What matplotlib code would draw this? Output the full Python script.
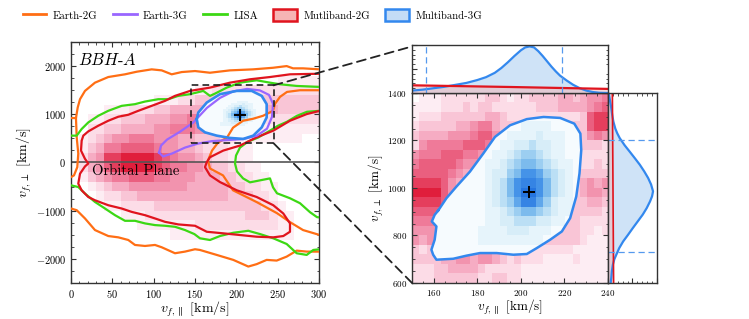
import numpy as np
import matplotlib
matplotlib.use("Agg")
import matplotlib.pyplot as plt
from matplotlib.colors import LinearSegmentedColormap
from matplotlib.patches import Polygon, Patch, Rectangle, ConnectionPatch
from matplotlib.lines import Line2D
from matplotlib.ticker import MultipleLocator

plt.rcParams.update({
    "font.family": "serif",
    "font.serif": ["cmr10"],
    "mathtext.fontset": "cm",
    "axes.formatter.use_mathtext": True,
})

# ---- pink histogram, left panel (rows top->bottom, y 2000..-2000, x 0..300)
pink_left_rows = [
    "000000000000000000000000000000",
    "000000000000000000000000011111",
    "000000000000000112222222222222",
    "000000000011122333333333333333",
    "000011122233444444444444433333",
    "001122333444556665544332222222",
    "002233444455666554432211111111",
    "012345566655544333221111111100",
    "013466777765544322211100000000",
    "024588999987655432211100000000",
    "024578999987665543322110000000",
    "013456677766555444332211000000",
    "001234455555554444433221100000",
    "000122334444444444433322100000",
    "000011222233333333333332210000",
    "000000111222222222222333211000",
    "000000001111111222222222211000",
    "000000000000111111111111111000",
    "000000000000000000000000000000",
    "000000000000000000000000000000",
]

# ---- zoomed panel histograms (rows top->bottom, y 1400..600, x 150..240)
pink_zoom_rows = [
    "011122222233212233334434556",
    "111122232332222223334444567",
    "122233333344322222222223788",
    "233333445664333333333333788",
    "344445556775433333333333565",
    "256666677765433333333333332",
    "566677766543333333333332222",
    "677777655433333333333332232",
    "777776544333333333333333333",
    "888875433333333333333334545",
    "999975433333333333333334554",
    "888874433333333333333333443",
    "777764433333333333333333332",
    "666554433333333333333332222",
    "555544333333333333333332212",
    "545443333333333333333332111",
    "323444334455332222222211111",
    "333344554554323222111121111",
    "222334444322222111111111111",
    "222333333223322111111111111",
]
blue_zoom_rows = [
    "000000000000000000000000000",
    "000000000000000000000000000",
    "000000000000000000000000000",
    "000000000000000111100000000",
    "000000000000011112111000000",
    "000000000000112232211000000",
    "000000000001123443211000000",
    "000000000011234554321100000",
    "000000000012245776432100000",
    "000000000012357887532100000",
    "000000000012357997532100000",
    "000000000012346886421100000",
    "000000000011234554321100000",
    "000000000011223332211000000",
    "000000000111122211100000000",
    "000000000111111111000000000",
    "000000000000000000000000000",
    "000000000000000000000000000",
    "000000000000000000000000000",
    "000000000000000000000000000",
]

# ---- contour lines (left panel)
e2g_up_x = [0, 6, 8.1, 10.9, 16.9, 29, 45.1, 65.3, 79.5, 97.6, 109.7, 121.8, 133.9, 150,
            168.1, 192.3, 220.2, 244.4, 260.9, 268.6, 280.7, 301]
e2g_up_y = [922, 922, 1140, 1313, 1485, 1656, 1773, 1829, 1883, 1932, 1911, 1829, 1876, 1897,
            1862, 1911, 1932, 1965, 2000, 1953, 1953, 1932]
e2g_notch_x = [6, 6.9, 8.8, 7.6, 3.6, 0]
e2g_notch_y = [922, 522, 186, -97, -268, -303]
e2g_low_x = [0, 6.9, 16.9, 29, 45.1, 57.2, 69.3, 77.4, 89.5, 101.6, 109.7, 125.8, 137.9, 150,
             156, 176.3, 196.3, 214.5, 224.6, 236.7, 248.8, 260.9, 273, 285.1, 301]
e2g_low_y = [-955, -990, -1161, -1402, -1526, -1553, -1608, -1711, -1732, -1711, -1759, -1883,
             -1849, -1800, -1815, -1918, -2021, -2159, -2109, -2021, -2035, -1953, -1829, -1849, -1849]
e2g_in_x = [301, 277, 261.3, 252.8, 246.8, 244.4, 232.3, 220.2, 208.1, 196, 188.7, 177.8, 170.6,
            165.7, 168.1, 183.9, 196, 225, 249.2, 264.9, 280.7, 301]
e2g_in_y = [1499, 1499, 1464, 1361, 1217, 1072, 969, 907, 866, 722, 516, 412, 247,
            41, -124, -268, -577, -825, -1052, -1237, -1402, -1505]

lisa_up_x = [0, 6.9, 12.9, 20.9, 33, 45.1, 61.3, 77.4, 89.5, 105.6, 117.7, 129.8, 144, 160,
             168.1, 174.2, 188.4, 204.4, 224.6, 240.7, 252.8, 273, 301]
lisa_up_y = [557, 557, 695, 831, 969, 1072, 1175, 1210, 1264, 1313, 1313, 1382, 1417, 1485,
             1382, 1429, 1553, 1656, 1705, 1656, 1623, 1588, 1567]
lisa_low_x = [0, 8.8, 16.9, 29, 41.1, 53.2, 65.3, 77.4, 89.5, 101.6, 113.7, 125.8, 137.9, 149.2,
              156, 168.1, 180.2, 196.3, 214.5, 228.6, 244.7, 260.9, 273, 285.1, 293.1, 301]
lisa_low_y = [-474, -509, -645, -819, -955, -1093, -1210, -1210, -1264, -1299, -1313, -1334,
              -1402, -1485, -1573, -1608, -1526, -1458, -1417, -1485, -1573, -1691, -1883, -1918,
              -1815, -1800]
lisa_in_x = [301, 285.5, 273.4, 261.3, 250.4, 240.7, 226.2, 214.1, 204.4, 199.6, 198.4, 200.8,
             208.1, 216.5, 228.6, 240.7, 244.4, 249.2, 264.9, 277, 289.1, 297.6, 301]
lisa_in_y = [1072, 1052, 969, 845, 763, 660, 516, 433, 309, 144, -21, -186,
             -330, -412, -371, -330, -516, -639, -742, -845, -1031, -1134, -1140]

mb2g_x = [301, 264.9, 240.7, 216.5, 192.3, 168.1, 144, 137.9, 125.8, 113.7, 97.6, 81.4, 69.3,
          57.2, 45.1, 33, 20.9, 14.9, 12.9, 12.1, 16.9, 20.9, 16.9, 10.9, 8.8, 12.9, 20.9, 29,
          45.1, 61.3, 73.4, 89.5, 101.6, 113.7, 129.8, 150, 164.2, 184.2, 204.4, 224.6, 244.7,
          256.8, 264.9, 264.9, 256.8, 244.7, 224.6, 200.5, 180.2, 168.1, 162.1, 164.2, 168.1,
          184.2, 204.4, 224.6, 244.7, 264.9, 285.1, 301]
mb2g_y = [1841, 1829, 1773, 1726, 1656, 1553, 1485, 1450, 1382, 1278, 1175, 1072, 990,
          949, 866, 763, 645, 557, 454, 247, 76, -21, -82, -233, -439, -577, -716, -784,
          -887, -955, -1025, -1093, -1161, -1231, -1285, -1313, -1437, -1470, -1505, -1540, -1553,
          -1526, -1437, -1264, -1058, -887, -716, -577, -406, -268, -97, 6, 109,
          247, 351, 522, 660, 866, 1004, 1072]

e3g_x = [106.5, 108.9, 116.1, 131.9, 147.6, 164.5, 180.2, 196, 212.9, 228.6, 239.5, 244.4,
         243.2, 237.1, 225, 208.1, 188.7, 170.6, 153.6, 137.9, 122.2, 111.3]
e3g_y = [206, 351, 474, 639, 825, 1134, 1340, 1474, 1526, 1495, 1402, 1217,
         949, 701, 557, 485, 464, 443, 392, 309, 186, 124]

mb3g_left_x = [152.1, 154, 164.2, 180.2, 200.5, 218.6, 230.7, 236.7, 236.7, 230.7, 220.5,
               208.4, 192.3, 176.3, 162.1, 154]
mb3g_left_y = [901, 1037, 1243, 1417, 1485, 1485, 1382, 1210, 934, 728, 557,
               489, 509, 557, 625, 728]

# ---- contour (zoomed panel)
mb3g_zoom_x = [162.0, 165.8, 170.4, 176.6, 182.7, 188.1, 195.0, 202.7, 210.4, 218.0, 224.5,
               227.3, 227.7, 226.9, 225.4, 222.6, 218.8, 213.4, 207.3, 202.7, 196.5, 188.9,
               181.2, 175.0, 168.9, 161.2, 159.7, 158.9, 160.4, 161.2, 159.1, 160.4]
mb3g_zoom_y = [905, 957, 1006, 1069, 1145, 1215, 1264, 1290, 1299, 1295, 1271,
               1229, 1159, 1062, 964, 873, 817, 782, 747, 722, 719, 726,
               726, 715, 702, 698, 719, 740, 782, 838, 859, 887]

# ---- marginals
top_x = [150, 155, 160, 165, 170, 175, 180, 184, 188, 191, 194, 197, 200, 202, 204, 206, 208,
         210, 212, 214, 216, 218, 221, 224, 227, 230, 233, 236, 240]
top_blue = [0.05, 0.07, 0.10, 0.13, 0.17, 0.21, 0.27, 0.33, 0.42, 0.52, 0.64, 0.77, 0.89, 0.95,
            0.97, 0.95, 0.87, 0.77, 0.66, 0.55, 0.45, 0.36, 0.26, 0.17, 0.10, 0.05, 0.02, 0.005, 0.0]
top_red_x = [150, 195, 240]
top_red = [0.16, 0.125, 0.085]
top_ci = [156.6, 218.7]

side_y = [1400, 1370, 1340, 1310, 1280, 1250, 1230, 1210, 1180, 1154, 1125, 1098, 1070, 1042,
          1015, 986, 965, 944, 915, 888, 860, 832, 803, 775, 747, 719, 700, 677, 650, 621, 600]
side_blue = [0.015, 0.04, 0.065, 0.085, 0.11, 0.15, 0.19, 0.24, 0.34, 0.44, 0.55, 0.65, 0.74,
             0.82, 0.88, 0.92, 0.90, 0.86, 0.79, 0.71, 0.61, 0.51, 0.41, 0.31, 0.23, 0.17, 0.13,
             0.10, 0.08, 0.068, 0.055]
side_red_y = [1400, 600]
side_red = [0.09, 0.115]
side_ci = [729, 1203]

true_left = (205, 990)
true_zoom = (203.7, 983)

# ---- styles
C_E2G = "#ff6e14"
C_E3G = "#9966ff"
C_LISA = "#3cd814"
C_MB2G = "#e0141e"
C_MB3G = "#3388ee"
F_MB2G = "#f6b4b4"
F_MB3G = "#c4dcf6"
SPINE = "#333333"

pink_cmap = LinearSegmentedColormap.from_list(
    "pink", ["#ffffff", "#fcd8e4", "#f5a0ba", "#ec6889", "#e01e3c"])
blue_cmap = LinearSegmentedColormap.from_list(
    "blue", ["#f6fbfe", "#d3ecf8", "#8cc6ef", "#4a98ea", "#2575e0"])


def to_grid(rows):
    return np.array([[int(ch) for ch in r] for r in rows], dtype=float)


def style_axes(a, size):
    a.tick_params(which="both", direction="in", top=True, right=True, labelsize=size,
                  color=SPINE)
    a.tick_params(which="major", length=3.5, width=0.8)
    a.tick_params(which="minor", length=1.8, width=0.6)
    for s in a.spines.values():
        s.set_color(SPINE)
        s.set_linewidth(1.0)


fig = plt.figure(figsize=(7.49, 3.19), dpi=100)
ax = fig.add_axes([0.0948, 0.1129, 0.3311, 0.7555])
axm = fig.add_axes([0.5501, 0.1129, 0.2617, 0.5956])
axt = fig.add_axes([0.5501, 0.7085, 0.2617, 0.1505])
axr = fig.add_axes([0.8117, 0.1129, 0.0654, 0.5956])

# ---------------- left panel
ax.imshow(to_grid(pink_left_rows), extent=(0, 300, -2000, 2000), origin="upper",
          cmap=pink_cmap, vmin=0, vmax=9, aspect="auto", interpolation="nearest", zorder=0)
blob_l = Polygon(list(zip(mb3g_left_x, mb3g_left_y)), closed=True, facecolor="#f6fbfe",
                 edgecolor="none", zorder=1)
ax.add_patch(blob_l)
im = ax.imshow(to_grid(blue_zoom_rows), extent=(150, 240, 600, 1400), origin="upper",
               cmap=blue_cmap, vmin=0, vmax=9, aspect="auto", interpolation="nearest", zorder=1.5)
im.set_clip_path(blob_l)

ax.axhline(0, color="#555555", lw=1.2, zorder=2)
lw = 1.6
for xs, ys in [(e2g_up_x, e2g_up_y), (e2g_notch_x, e2g_notch_y), (e2g_low_x, e2g_low_y),
               (e2g_in_x, e2g_in_y)]:
    ax.plot(xs, ys, color=C_E2G, lw=lw, zorder=3)
for xs, ys in [(lisa_up_x, lisa_up_y), (lisa_low_x, lisa_low_y), (lisa_in_x, lisa_in_y)]:
    ax.plot(xs, ys, color=C_LISA, lw=lw, zorder=3)
ax.plot(mb2g_x, mb2g_y, color=C_MB2G, lw=lw, zorder=3.2)
ax.plot(e3g_x + e3g_x[:1], e3g_y + e3g_y[:1], color=C_E3G, lw=lw, zorder=3.3)
ax.plot(mb3g_left_x + mb3g_left_x[:1], mb3g_left_y + mb3g_left_y[:1], color=C_MB3G,
        lw=lw + 0.3, zorder=3.5)
ax.plot(*true_left, marker="+", color="k", ms=8, mew=1.4, zorder=5)

ax.add_patch(Rectangle((145, 400), 100, 1200, fill=False, ls=(0, (4, 2.5)), lw=1.2,
                       color="#222222", zorder=4))
ax.text(26, -180, "Orbital Plane", fontsize=10.5, va="center", ha="left", zorder=4)
ax.text(0.03, 0.96, r"$\mathit{BBH}$-$\mathit{A}$", transform=ax.transAxes, fontsize=12,
        va="top", ha="left")

ax.set_xlim(0, 300)
ax.set_ylim(-2500, 2500)
ax.xaxis.set_major_locator(MultipleLocator(50))
ax.xaxis.set_minor_locator(MultipleLocator(10))
ax.yaxis.set_major_locator(MultipleLocator(1000))
ax.yaxis.set_minor_locator(MultipleLocator(250))
style_axes(ax, 7.5)
ax.set_xlabel(r"$v_{f,\parallel}$ [km/s]", fontsize=10, labelpad=0)
ax.set_ylabel(r"$v_{f,\perp}$ [km/s]", fontsize=10, labelpad=1)

# ---------------- zoomed panel
axm.imshow(to_grid(pink_zoom_rows), extent=(150, 240, 600, 1400), origin="upper",
           cmap=pink_cmap, vmin=0, vmax=9, aspect="auto", interpolation="nearest", zorder=0)
blob_z = Polygon(list(zip(mb3g_zoom_x, mb3g_zoom_y)), closed=True, facecolor="#f6fbfe",
                 edgecolor="none", zorder=1)
axm.add_patch(blob_z)
imz = axm.imshow(to_grid(blue_zoom_rows), extent=(150, 240, 600, 1400), origin="upper",
                 cmap=blue_cmap, vmin=0, vmax=9, aspect="auto", interpolation="nearest",
                 zorder=1.5)
imz.set_clip_path(blob_z)
axm.plot(mb3g_zoom_x + mb3g_zoom_x[:1], mb3g_zoom_y + mb3g_zoom_y[:1], color=C_MB3G, lw=1.8,
         zorder=3)
axm.plot(*true_zoom, marker="+", color="k", ms=8, mew=1.4, zorder=5)
axm.set_xlim(150, 240)
axm.set_ylim(600, 1400)
axm.xaxis.set_major_locator(MultipleLocator(20))
axm.xaxis.set_minor_locator(MultipleLocator(5))
axm.yaxis.set_major_locator(MultipleLocator(200))
axm.yaxis.set_minor_locator(MultipleLocator(50))
style_axes(axm, 6.5)
axm.set_xlabel(r"$v_{f,\parallel}$ [km/s]", fontsize=9.5, labelpad=0)
axm.set_ylabel(r"$v_{f,\perp}$ [km/s]", fontsize=9.5, labelpad=1)

# top marginal
axt.fill_between(top_x, 0, top_blue, color=F_MB3G, alpha=0.8, lw=0)
axt.plot(top_x, top_blue, color=C_MB3G, lw=1.6)
axt.fill_between(top_red_x, 0, top_red, color=F_MB2G, alpha=0.5, lw=0)
axt.plot(top_red_x, top_red, color=C_MB2G, lw=1.6)
for v in top_ci:
    axt.axvline(v, color="#5599ee", ls=(0, (5, 3)), lw=0.9)
axt.set_xlim(150, 240)
axt.set_ylim(0, 1.0)
axt.set_xticks([])
axt.yaxis.set_major_locator(MultipleLocator(0.5))
axt.yaxis.set_minor_locator(MultipleLocator(0.1))
style_axes(axt, 6)
axt.tick_params(labelleft=False, right=False, top=False)

# side marginal
axr.fill_betweenx(side_y, 0, side_blue, color=F_MB3G, alpha=0.8, lw=0)
axr.plot(side_blue, side_y, color=C_MB3G, lw=1.6)
axr.fill_betweenx(side_red_y, 0, side_red, color=F_MB2G, alpha=0.5, lw=0)
axr.plot(side_red, side_red_y, color=C_MB2G, lw=1.2)
for v in side_ci:
    axr.axhline(v, color="#5599ee", ls=(0, (5, 3)), lw=0.9)
axr.set_ylim(600, 1400)
axr.set_xlim(0, 1.0)
axr.set_yticks([])
axr.xaxis.set_major_locator(MultipleLocator(0.5))
axr.xaxis.set_minor_locator(MultipleLocator(0.1))
style_axes(axr, 6)
axr.tick_params(labelbottom=False, top=False, right=False)

# connector lines
for xy_a, xy_b, target in [((245, 1600), (0, 0.97), axt), ((245, 400), (0, 0), axm)]:
    con = ConnectionPatch(xyA=xy_a, coordsA=ax.transData, xyB=xy_b, coordsB=target.transAxes,
                          ls=(0, (5, 3)), lw=1.3, color="#222222")
    fig.add_artist(con)

# legend
handles = [
    Line2D([], [], color=C_E2G, lw=2),
    Line2D([], [], color=C_E3G, lw=2),
    Line2D([], [], color=C_LISA, lw=2),
    Patch(facecolor=F_MB2G, edgecolor=C_MB2G, lw=1.8),
    Patch(facecolor=F_MB3G, edgecolor=C_MB3G, lw=1.8),
]
labels = ["Earth-2G", "Earth-3G", "LISA", "Mutliband-2G", "Multiband-3G"]
fig.legend(handles, labels, loc="upper left", bbox_to_anchor=(0.02, 0.995), ncol=5,
           frameon=False, fontsize=7.8, handlelength=2.2, handleheight=1.3,
           columnspacing=1.4, handletextpad=0.6, borderaxespad=0.3)

fig.savefig("out.png", dpi=100)
